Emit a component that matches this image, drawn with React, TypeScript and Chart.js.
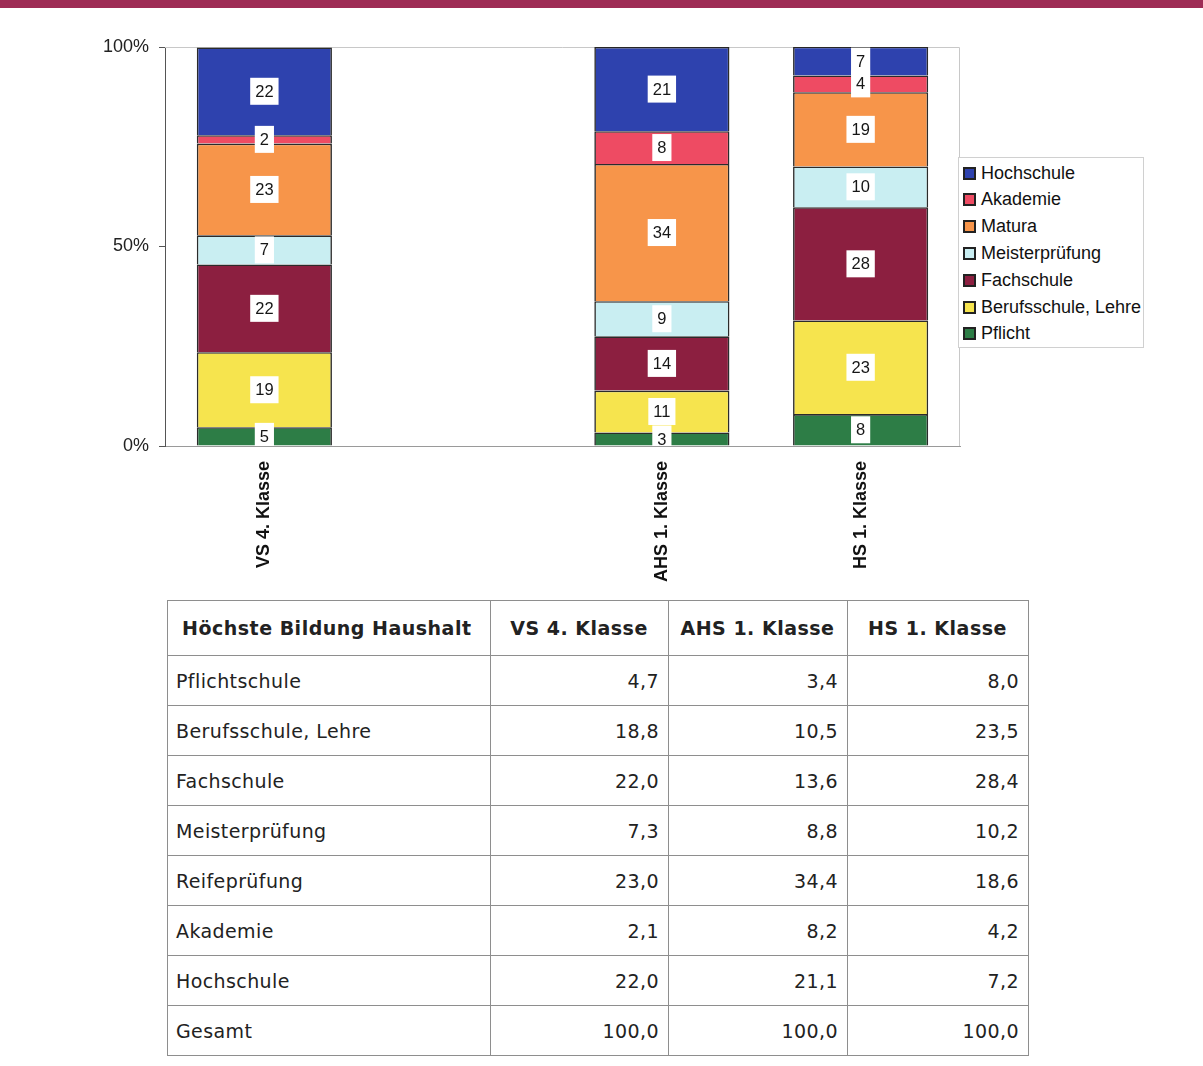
import React, { useEffect, useRef } from 'react';
import { Chart, registerables } from 'chart.js';

Chart.register(...registerables);

// ---- data ----
const categories = ['VS 4. Klasse', '', 'AHS 1. Klasse', 'HS 1. Klasse'];
const seriesNames = ['Pflicht', 'Berufsschule, Lehre', 'Fachschule', 'Meisterprüfung', 'Matura', 'Akademie', 'Hochschule'];
const seriesColors = ['#2D7D46', '#F6E44E', '#8C1F40', '#C9EEF2', '#F7954A', '#EE4B63', '#2E42AE'];
const pflicht = [4.7, null, 3.4, 8.0];
const berufsschule = [18.8, null, 10.5, 23.46];
const fachschule = [22.0, null, 13.6, 28.4];
const meister = [7.3, null, 8.8, 10.2];
const matura = [23.0, null, 34.4, 18.6];
const akademie = [2.1, null, 8.2, 4.2];
const hochschule = [22.0, null, 21.1, 7.2];
const yTicks = [0, 50, 100];

const tableHeader = ['Höchste Bildung Haushalt', 'VS 4. Klasse', 'AHS 1. Klasse', 'HS 1. Klasse'];
const tableRowLabels = ['Pflichtschule', 'Berufsschule, Lehre', 'Fachschule', 'Meisterprüfung', 'Reifeprüfung', 'Akademie', 'Hochschule'];
const totalLabel = 'Gesamt';
const totals = [100.0, 100.0, 100.0];

const seriesData = [pflicht, berufsschule, fachschule, meister, matura, akademie, hochschule];
const tableColumns = [0, 2, 3];

const CHART_FONT = '"Liberation Sans", Arial, sans-serif';
const TABLE_FONT = '"DejaVu Sans", Verdana, sans-serif';

const fmt = (v: number) => v.toFixed(1).replace('.', ',');

const segLabels = {
  id: 'segLabels',
  afterDatasetsDraw(chart: any) {
    const ctx = chart.ctx;
    const area = chart.chartArea;
    ctx.save();
    ctx.beginPath();
    ctx.rect(area.left, area.top, area.right - area.left, area.bottom - area.top);
    ctx.clip();
    ctx.font = `16.5px ${CHART_FONT}`;
    ctx.textAlign = 'center';
    ctx.textBaseline = 'middle';
    chart.data.datasets.forEach((ds: any, i: number) => {
      const meta = chart.getDatasetMeta(i);
      meta.data.forEach((bar: any, j: number) => {
        const v = ds.data[j];
        if (v == null) return;
        const p = bar.getProps(['x', 'y', 'base'], true);
        const cy = (p.y + p.base) / 2;
        const txt = String(Math.round(v));
        const w = ctx.measureText(txt).width + 10;
        const h = 27;
        ctx.fillStyle = '#ffffff';
        ctx.fillRect(p.x - w / 2, cy - h / 2, w, h);
        ctx.fillStyle = '#161616';
        ctx.fillText(txt, p.x, cy + 1);
      });
    });
    ctx.restore();
  },
};

const frame = {
  id: 'frame',
  beforeDatasetsDraw(chart: any) {
    const { ctx, chartArea: a } = chart;
    ctx.save();
    ctx.strokeStyle = '#c8c8c8';
    ctx.lineWidth = 1;
    ctx.beginPath();
    ctx.moveTo(a.left, a.top + 0.5);
    ctx.lineTo(a.right - 0.5, a.top + 0.5);
    ctx.lineTo(a.right - 0.5, a.bottom);
    ctx.stroke();
    ctx.restore();
  },
};

export default function App() {
  const ref = useRef<HTMLCanvasElement>(null);

  useEffect(() => {
    const chart = new Chart(ref.current as HTMLCanvasElement, {
      type: 'bar',
      data: {
        labels: categories,
        datasets: seriesData.map((d, i) => ({
          label: seriesNames[i],
          data: d as any,
          backgroundColor: seriesColors[i],
          borderColor: 'rgba(20,20,20,0.9)',
          borderWidth: 1.6,
          categoryPercentage: 0.68,
          barPercentage: 1,
        })),
      },
      options: {
        animation: false,
        responsive: false,
        devicePixelRatio: 1,
        layout: { padding: { top: 47, right: 40, left: 0, bottom: 0 } },
        plugins: { legend: { display: false }, tooltip: { enabled: false } },
        scales: {
          x: {
            stacked: true,
            grid: { display: false, drawTicks: false },
            border: { color: '#9a9a9a' },
            ticks: {
              minRotation: 90,
              maxRotation: 90,
              autoSkip: false,
              padding: 15,
              color: '#111',
              font: { family: CHART_FONT, size: 18, weight: 'bold' },
            },
            afterFit: (s: any) => {
              s.height = 154;
            },
          },
          y: {
            stacked: true,
            min: 0,
            max: 100,
            afterBuildTicks: (s: any) => {
              s.ticks = yTicks.map((v) => ({ value: v }));
            },
            ticks: {
              callback: (v: any) => v + '%',
              padding: 10,
              color: '#222',
              font: { family: CHART_FONT, size: 18 },
            },
            grid: { drawOnChartArea: false, drawTicks: true, tickLength: 6, color: '#555' },
            border: { color: '#555' },
            afterFit: (s: any) => {
              s.width = 165;
            },
          },
        },
      },
      plugins: [frame, segLabels],
    });
    return () => chart.destroy();
  }, []);

  const cellBorder = '1.5px solid #8e8e8e';
  const legendOrder = seriesNames.map((n, i) => ({ n, c: seriesColors[i] })).reverse();

  return (
    <div style={{ position: 'absolute', left: 0, top: 0, width: 1203, height: 1066, background: '#fff', overflow: 'hidden' }}>
      <canvas ref={ref} width={1000} height={600} style={{ position: 'absolute', left: 0, top: 0, width: 1000, height: 600 }} />
      <div style={{ position: 'absolute', left: 0, top: 0, width: 1203, height: 8, background: '#9E2C55' }} />
      <div
        style={{
          position: 'absolute',
          left: 958,
          top: 157,
          width: 186,
          height: 191,
          border: '1px solid #d0d0d0',
          boxSizing: 'border-box',
          background: '#fff',
        }}
      >
        {legendOrder.map((it, k) => (
          <div
            key={it.n}
            style={{
              position: 'absolute',
              left: 4,
              top: 5 + k * 26.8,
              height: 20,
              display: 'flex',
              alignItems: 'center',
              fontFamily: CHART_FONT,
              fontSize: 18,
              color: '#111',
              whiteSpace: 'nowrap',
            }}
          >
            <span
              style={{
                display: 'inline-block',
                width: 9,
                height: 9,
                border: '2px solid #222',
                background: it.c,
                marginRight: 5,
              }}
            />
            {it.n}
          </div>
        ))}
      </div>
      <table
        style={{
          position: 'absolute',
          left: 167,
          top: 600,
          width: 861,
          borderCollapse: 'collapse',
          tableLayout: 'fixed',
          fontFamily: TABLE_FONT,
          fontSize: 19,
          letterSpacing: 0.4,
          color: '#222',
        }}
      >
        <colgroup>
          <col style={{ width: 323 }} />
          <col style={{ width: 178 }} />
          <col style={{ width: 179 }} />
          <col style={{ width: 181 }} />
        </colgroup>
        <thead>
          <tr style={{ height: 55 }}>
            {tableHeader.map((h, i) => (
              <th
                key={i}
                style={{
                  border: cellBorder,
                  fontWeight: 'bold',
                  textAlign: i === 0 ? 'left' : 'center',
                  paddingLeft: i === 0 ? 14 : 0,
                  letterSpacing: 0.5,
                  whiteSpace: 'nowrap',
                }}
              >
                {h}
              </th>
            ))}
          </tr>
        </thead>
        <tbody>
          {tableRowLabels.map((lab, r) => (
            <tr key={lab} style={{ height: 50 }}>
              <td style={{ border: cellBorder, paddingLeft: 8 }}>{lab}</td>
              {tableColumns.map((c) => (
                <td key={c} style={{ border: cellBorder, textAlign: 'right', paddingRight: 9 }}>
                  {fmt(seriesData[r][c] as number)}
                </td>
              ))}
            </tr>
          ))}
          <tr style={{ height: 50 }}>
            <td style={{ border: cellBorder, paddingLeft: 8 }}>{totalLabel}</td>
            {totals.map((t, i) => (
              <td key={i} style={{ border: cellBorder, textAlign: 'right', paddingRight: 9 }}>
                {fmt(t)}
              </td>
            ))}
          </tr>
        </tbody>
      </table>
    </div>
  );
}
